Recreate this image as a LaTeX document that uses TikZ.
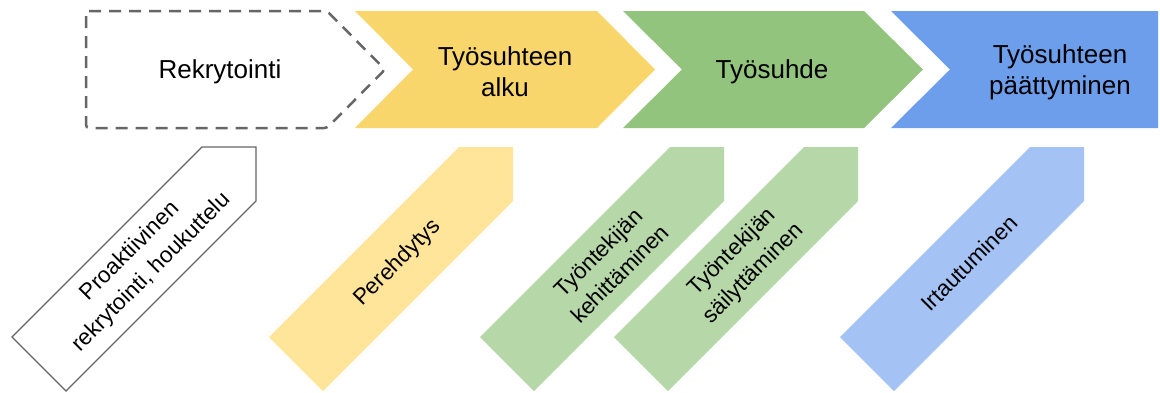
\documentclass[tikz,border=0pt]{standalone}
\usepackage{fontspec}
\setmainfont{Liberation Sans}
\definecolor{phaseYellow}{HTML}{F9D66B}
\definecolor{phaseGreen}{HTML}{93C47D}
\definecolor{phaseBlue}{HTML}{6D9EEB}
\definecolor{subYellow}{HTML}{FFE599}
\definecolor{subGreen}{HTML}{B6D7A8}
\definecolor{subBlue}{HTML}{A4C2F4}
\definecolor{edgeGray}{HTML}{666666}
\tikzset{
  phasetext/.style={align=center, font=\fontsize{26}{31}\selectfont, text=black},
  subtext/.style={align=center, font=\fontsize{22.5}{30}\selectfont, text=black, rotate=45},
  dashedphase/.style={draw=edgeGray, line width=2.5pt, dash pattern=on 12pt off 8pt, fill=white, rounded corners=3pt},
}
% slanted sub-step arrow with its tip corner at (#1,147)
\newcommand{\subarrow}[2]{%
  \path[#2] (#1-54,147) -- (#1,147) -- (#1,201) -- (#1-190,391) -- (#1-244,337) -- cycle;}
\begin{document}
\begin{tikzpicture}[x=1pt,y=-1pt]
\useasboundingbox (0,0) rectangle (1160,392);
\fill[white] (0,0) rectangle (1160,392);

% main phases
\path[dashedphase] (86,11) -- (327,11) -- (385,69.5) -- (327,128) -- (86,128) -- cycle;
\fill[phaseYellow] (355,11) -- (597,11) -- (655,69.5) -- (597,128) -- (355,128) -- (413,69.5) -- cycle;
\fill[phaseGreen] (623,11) -- (864,11) -- (923,69.5) -- (864,128) -- (623,128) -- (682,69.5) -- cycle;
\fill[phaseBlue] (891,11) -- (1158,11) -- (1158,128) -- (891,128) -- (950,69.5) -- cycle;

\node[phasetext] (rekry) at (220,72) {Rekrytointi};
\node[phasetext] (alku) at (505,72) {Työsuhteen\\alku};
\node[phasetext] (suhde) at (772,72) {Työsuhde};
\node[phasetext] (loppu) at (1060,72) {Työsuhteen\\päättyminen};

% sub-steps
\subarrow{256}{draw=edgeGray, line width=1.3pt, fill=white}
\subarrow{513}{fill=subYellow}
\subarrow{724}{fill=subGreen}
\subarrow{858}{fill=subGreen}
\subarrow{1084}{fill=subBlue}

\node[subtext] (proakt) at (141,262) {Proaktiivinen\\rekrytointi, houkuttelu};
\node[subtext] (pere) at (398,263) {Perehdytys};
\node[subtext] (kehit) at (609,263) {Työntekijän\\kehittäminen};
\node[subtext] (sailyt) at (743,263) {Työntekijän\\säilyttäminen};
\node[subtext] (irtau) at (969,263) {Irtautuminen};
\end{tikzpicture}
\end{document}
